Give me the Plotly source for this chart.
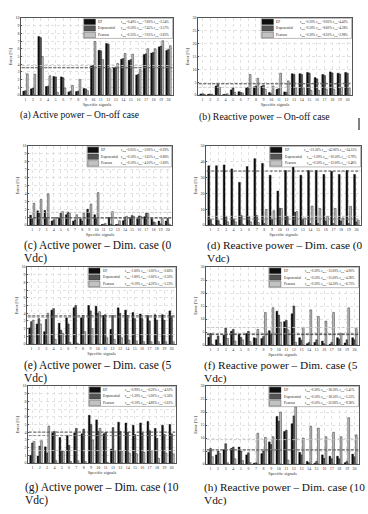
import plotly.graph_objects as go
import numpy as np

W, H = 368, 514
signals = list(range(1, 21))
series_names = ["EP", "Exponential", "Pearson"]

# (a) Active power - On-off case
ep_a = [0.5, 0.8, 7.6, 1.1, 2.4, 2.35, 0.4, 0.45, 0.85, 3.85, 5.8, 6.7, 3.5, 4.65, 4.5, 2.6, 5.25, 5.45, 6.25, 5.8]
ex_a = [0.55, 0.9, 7.45, 1.15, 2.35, 2.25, 0.5, 0.5, 0.8, 3.85, 5.75, 6.6, 3.6, 4.75, 4.6, 2.7, 5.35, 5.55, 6.35, 5.9]
pe_a = [2.75, 2.7, 5.0, 2.5, 0.35, 0.9, 1.25, 2.0, 0.55, 6.95, 4.6, 3.4, 4.1, 5.4, 5.3, 3.3, 6.0, 6.0, 7.05, 6.4]
# (b) Reactive power - On-off case
ep_b = [0.4, 0.3, 3.5, 0.2, 2.0, 1.3, 2.8, 3.2, 3.5, 1.0, 2.2, 1.2, 8.3, 8.3, 8.8, 6.8, 8.0, 9.0, 8.5, 8.8]
ex_b = [0.5, 0.4, 4.5, 0.3, 2.8, 1.0, 3.0, 3.5, 3.8, 0.5, 2.5, 1.0, 8.0, 8.0, 8.5, 6.3, 7.6, 8.6, 8.2, 8.5]
pe_b = [0.3, 0.3, 3.0, 0.5, 1.0, 0.8, 8.0, 6.5, 2.2, 3.5, 8.5, 5.5, 2.8, 2.8, 1.8, 1.8, 2.3, 2.2, 3.0, 2.8]
# (c) Active power - Dim. case (0 Vdc)
ep_c = [1.25, 1.8, 1.85, 0.5, 0.9, 1.3, 0.5, 0.8, 2.0, 1.3, 0.05, 0.95, 0.05, 0.55, 0.9, 0.8, 1.05, 0.9, 0.5, 0.5]
ex_c = [0.8, 1.5, 0.95, 0.65, 1.5, 1.65, 0.65, 0.5, 1.6, 0.8, 0.1, 0.1, 0.1, 1.0, 1.2, 1.15, 1.5, 0.4, 0.15, 0.85]
pe_c = [2.75, 3.25, 3.95, 0.95, 1.7, 1.45, 1.3, 1.5, 2.65, 4.1, 0.2, 1.7, 0.55, 1.1, 1.1, 1.1, 1.45, 0.3, 0.8, 0.1]
# (d) Reactive power - Dim. case (0 Vdc)
ep_d = [37.5, 37.5, 38.0, 35.5, 27.0, 37.0, 42.0, 39.0, 31.5, 21.5, 34.5, 37.0, 31.5, 34.5, 34.5, 32.0, 34.0, 32.0, 34.5, 32.0]
ex_d = [3.5, 2.8, 5.5, 3.5, 6.0, 5.5, 6.0, 1.0, 3.5, 10.5, 5.5, 8.0, 3.5, 1.0, 1.0, 2.5, 1.0, 2.5, 1.0, 2.0]
pe_d = [0.5, 0.5, 2.0, 2.0, 0.5, 2.0, 1.5, 9.8, 9.0, 10.5, 0.5, 8.5, 4.5, 12.0, 10.5, 5.5, 10.5, 4.5, 11.8, 3.0]
# (e) Active power - Dim. case (5 Vdc)
ep_e = [2.1, 2.6, 1.6, 4.4, 2.7, 3.4, 4.7, 3.4, 5.0, 4.9, 3.7, 1.9, 4.7, 4.4, 4.1, 3.9, 3.7, 3.8, 3.8, 4.3]
ex_e = [2.9, 3.3, 3.2, 4.6, 1.8, 2.6, 5.0, 3.7, 4.3, 4.0, 3.8, 3.7, 4.0, 3.7, 3.3, 3.3, 3.0, 3.1, 3.1, 3.6]
pe_e = [3.1, 2.6, 4.0, 0.6, 1.4, 0.2, 0.1, 1.6, 2.0, 4.2, 0.8, 0.6, 0.8, 0.5, 0.4, 0.3, 0.3, 0.3, 0.3, 0.3]
# (f) Reactive power - Dim. case (5 Vdc)
ep_f = [3.0, 2.0, 3.8, 5.3, 4.2, 4.5, 2.8, 2.5, 5.5, 13.0, 9.0, 12.0, 2.8, 0.5, 1.0, 1.5, 0.3, 2.8, 0.8, 2.8]
ex_f = [4.5, 3.5, 6.5, 6.0, 3.0, 5.3, 2.5, 3.3, 4.5, 11.5, 9.5, 15.0, 1.8, 1.0, 2.0, 0.5, 1.0, 2.2, 2.0, 2.0]
pe_f = [0.3, 0.5, 2.5, 1.5, 2.0, 1.3, 6.0, 12.5, 14.3, 8.8, 5.8, 1.0, 6.8, 13.5, 11.0, 9.2, 12.5, 4.5, 14.3, 6.3]
# (g) Active power - Dim. case (10 Vdc)
ep_g = [1.0, 0.9, 2.1, 3.9, 3.3, 3.6, 3.9, 3.8, 6.2, 5.6, 3.8, 1.8, 5.3, 5.2, 4.9, 5.2, 5.4, 4.5, 4.9, 5.0]
ex_g = [2.6, 2.2, 1.3, 4.1, 1.6, 2.3, 4.5, 4.4, 5.0, 4.1, 4.0, 4.6, 4.1, 4.0, 3.7, 3.9, 4.2, 3.2, 3.7, 3.8]
pe_g = [2.8, 2.9, 4.8, 0.3, 1.5, 0.2, 0.3, 0.2, 3.0, 4.5, 0.1, 1.5, 1.5, 1.3, 1.2, 1.4, 1.6, 0.6, 1.3, 1.2]
# (h) Reactive power - Dim. case (10 Vdc)
ep_h = [4.5, 3.5, 5.5, 6.0, 6.5, 3.5, 0.3, 4.0, 8.5, 18.3, 12.5, 15.5, 4.5, 1.0, 0.3, 3.5, 3.0, 3.0, 0.5, 3.8]
ex_h = [6.0, 5.0, 7.8, 6.5, 5.0, 4.3, 0.5, 5.0, 7.5, 16.5, 13.0, 18.5, 3.5, 0.5, 1.0, 2.2, 2.0, 2.0, 1.0, 2.8]
pe_h = [2.8, 4.0, 0.5, 2.0, 1.3, 0.5, 11.8, 10.2, 10.5, 20.0, 1.5, 22.0, 10.0, 14.5, 13.8, 10.5, 12.2, 10.5, 17.8, 11.2]

y_max = [10, 30, 10, 50, 10, 30, 10, 30]
y_step = [1, 5, 1, 10, 1, 5, 1, 5]
captions = [
    ["(a) Active power – On-off case"],
    ["(b) Reactive power – On-off case"],
    ["(c) Active power – Dim. case (0", "Vdc)"],
    ["(d) Reactive power – Dim. case (0", "Vdc)"],
    ["(e) Active power – Dim. case (5", "Vdc)"],
    ["(f) Reactive power – Dim. case (5", "Vdc)"],
    ["(g) Active power – Dim. case (10", "Vdc)"],
    ["(h) Reactive power – Dim. case (10", "Vdc)"],
]
data = [(ep_a, ex_a, pe_a), (ep_b, ex_b, pe_b), (ep_c, ex_c, pe_c), (ep_d, ex_d, pe_d),
        (ep_e, ex_e, pe_e), (ep_f, ex_f, pe_f), (ep_g, ex_g, pe_g), (ep_h, ex_h, pe_h)]

# layout geometry in pixels: (x0, x1), (ytop, ybottom), caption x, caption y, caption size
geom = [
    ((21, 173), (18, 95), 18, 115, 9.6),
    ((198, 352), (18, 95), 197, 117, 9.8),
    ((28, 172), (146, 225), 22, 245, 11.5),
    ((206, 361), (146, 225), 205, 245, 11.3),
    ((27, 176), (267, 344), 22, 365, 11.5),
    ((206, 359), (267, 345), 202, 365, 11.3),
    ((28, 176), (386, 463), 23, 487, 11.5),
    ((206, 359), (386, 464), 202, 487, 11.3),
]

colors = ["#0e0e0e", "#555555", "#c2c2c2"]
line_cols = ["#3a3a3a", "#808080", "#c4c4c4"]

fig = go.Figure()
shapes = []
annotations = []
layout = {}

for i, (vals, g, yM, ys, cap) in enumerate(zip(data, geom, y_max, y_step, captions)):
    k = i + 1
    xa = "x" if k == 1 else f"x{k}"
    ya = "y" if k == 1 else f"y{k}"
    (px0, px1), (pyt, pyb), cx, cy, cs = g
    for j, v in enumerate(vals):
        fig.add_trace(go.Bar(x=signals, y=v, name=series_names[j], xaxis=xa, yaxis=ya,
                             marker=dict(color=colors[j], line=dict(color="#000", width=0.4)),
                             showlegend=False, offsetgroup=str(j)))
    axis_common = dict(showline=True, mirror=True, linecolor="#555", linewidth=0.6,
                       showgrid=True, gridcolor="#e2e2e2", gridwidth=0.5, griddash="dot",
                       ticks="inside", ticklen=1.5, tickcolor="#555", tickwidth=0.5,
                       tickfont=dict(size=4, family="Liberation Serif", color="#333"),
                       zeroline=False, automargin=False)
    layout["xaxis" if k == 1 else f"xaxis{k}"] = dict(
        axis_common, domain=[px0 / W, px1 / W], anchor=ya, range=[0.4, 20.6],
        tickvals=signals, ticktext=[str(s) for s in signals],
        title=dict(text="Specific signals", font=dict(size=4.5, family="Liberation Serif", color="#333"), standoff=1))
    layout["yaxis" if k == 1 else f"yaxis{k}"] = dict(
        axis_common, domain=[1 - pyb / H, 1 - pyt / H], anchor=xa, range=[0, yM],
        tickvals=list(range(0, yM + 1, ys)),
        title=dict(text="Error [%]", font=dict(size=4.5, family="Liberation Serif", color="#333"), standoff=2))
    # average lines
    for j, v in enumerate(vals):
        m = float(np.mean(v))
        shapes.append(dict(type="line", xref=xa, yref=ya, x0=0.5, x1=20.5, y0=m, y1=m,
                           line=dict(color=line_cols[j], width=0.9, dash="3px,1.5px"), layer="above"))
    # legend box
    xd = f"{xa} domain"
    yd = f"{ya} domain"
    shapes.append(dict(type="rect", xref=xd, yref=yd, x0=0.41, x1=0.997, y0=0.735, y1=0.995,
                       fillcolor="white", line=dict(color="#777", width=0.5), layer="above"))
    rows = [0.95, 0.865, 0.78]
    for j, v in enumerate(vals):
        shapes.append(dict(type="rect", xref=xd, yref=yd, x0=0.415, x1=0.49,
                           y0=rows[j] - 0.035, y1=rows[j] + 0.035,
                           fillcolor=colors[j], line=dict(color="#000", width=0.3), layer="above"))
        annotations.append(dict(xref=xd, yref=yd, x=0.495, y=rows[j], text=series_names[j],
                                showarrow=False, xanchor="left", yanchor="middle",
                                font=dict(size=3.5, family="Liberation Serif", color="#222")))
        txt = (f"ε<sub>min</sub>={min(v):.2f}% ε<sub>max</sub>={max(v):.2f}% "
               f"ε<sub>avg</sub>={np.mean(v):.2f}%")
        annotations.append(dict(xref=xd, yref=yd, x=0.99, y=rows[j], text=txt,
                                showarrow=False, xanchor="right", yanchor="middle",
                                font=dict(size=3.3, family="Liberation Serif", color="#222")))
    # captions
    for li, line in enumerate(cap):
        annotations.append(dict(xref="paper", yref="paper", x=cx / W, y=1 - (cy + li * 13) / H,
                                text=line, showarrow=False, xanchor="left", yanchor="middle",
                                font=dict(size=cs, family="Liberation Serif", color="#111")))

# small cursor mark at top right
shapes.append(dict(type="line", xref="paper", yref="paper", x0=359 / W, x1=359 / W,
                   y0=1 - 118 / H, y1=1 - 130 / H, line=dict(color="#000", width=1)))

fig.update_layout(**layout)
fig.update_layout(width=W, height=H, margin=dict(l=0, r=0, t=0, b=0),
                  paper_bgcolor="white", plot_bgcolor="white",
                  barmode="group", bargap=0.28, bargroupgap=0.0,
                  shapes=shapes, annotations=annotations, showlegend=False)
fig.write_html("out.html", config={"displayModeBar": False},
               post_script="document.body.style.margin='0';document.body.style.overflow='hidden';")
